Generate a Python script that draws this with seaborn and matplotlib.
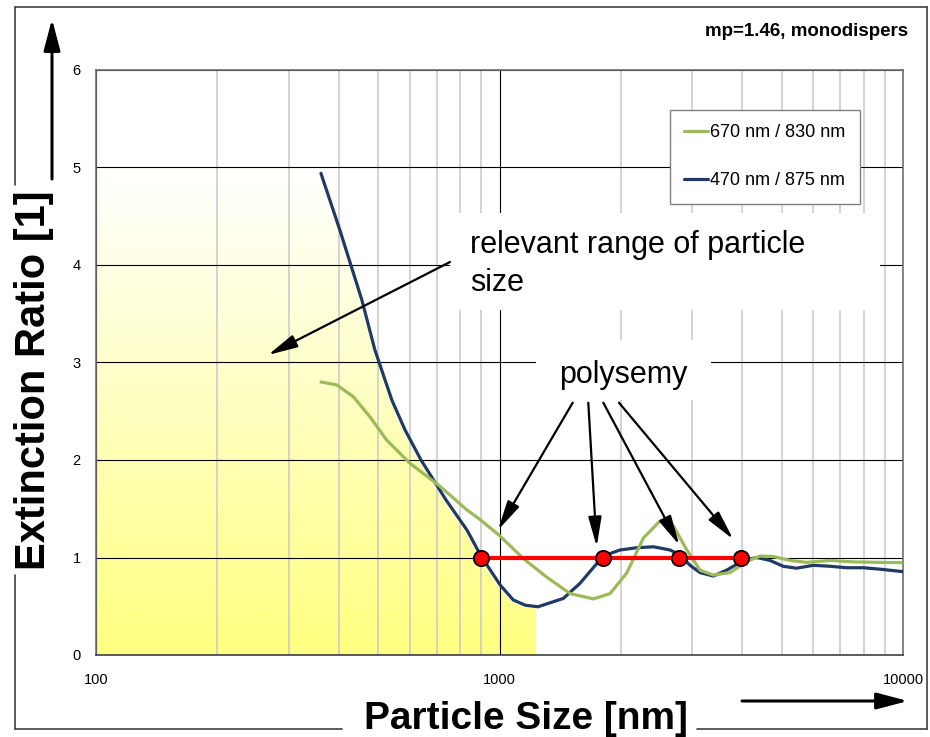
import numpy as np
import pandas as pd
import matplotlib
matplotlib.use('Agg')
import matplotlib.pyplot as plt
import seaborn as sns
from matplotlib.patches import Rectangle, Polygon
from matplotlib.lines import Line2D
from matplotlib.colors import LinearSegmentedColormap
from matplotlib.transforms import ScaledTranslation
from matplotlib.ticker import LogLocator, FixedLocator, FuncFormatter, NullFormatter

# ---------------- data ----------------
series_labels = ['670 nm / 830 nm', '470 nm / 875 nm']

green_x = [361, 395, 434, 478, 525, 600, 712, 829, 895, 1003, 1145, 1308, 1496,
           1708, 1880, 2066, 2273, 2500, 2700, 2912, 3140, 3389, 3726, 4100,
           4422, 4769, 5249, 5773, 6590, 7534, 8772, 10000]
green_y = [2.80, 2.77, 2.65, 2.44, 2.205, 1.966, 1.73, 1.49, 1.39, 1.22, 0.99,
           0.80, 0.63, 0.575, 0.63, 0.84, 1.20, 1.375, 1.32, 1.077, 0.87, 0.82,
           0.845, 0.96, 1.015, 1.01, 0.97, 0.95, 0.97, 0.955, 0.95, 0.947]

blue_x = [361, 402, 456, 491, 541, 583, 639, 737, 831, 900, 1003, 1082, 1160,
          1246, 1439, 1583, 1807, 1989, 2188, 2405, 2647, 2801, 2966, 3140,
          3389, 3655, 4021, 4338, 4680, 5048, 5446, 5994, 6590, 7250, 7975,
          8772, 10000]
blue_y = [4.94, 4.36, 3.64, 3.13, 2.615, 2.31, 2.0, 1.59, 1.28, 1.015, 0.72,
          0.564, 0.51, 0.495, 0.58, 0.735, 1.015, 1.077, 1.10, 1.11, 1.077,
          1.026, 0.92, 0.845, 0.81, 0.87, 0.97, 1.0, 0.97, 0.91, 0.89, 0.92,
          0.91, 0.895, 0.895, 0.88, 0.855]

red_x = [900, 1807, 2790, 3960]
red_y = [1.0, 1.0, 1.0, 1.0]

fill_end = 1246     # end of "relevant range" shading (nm)
fill_cap = 5        # top of shading

x_ticks = [100, 1000, 10000]
y_ticks = [0, 1, 2, 3, 4, 5, 6]

# ---------------- style ----------------
sns.set_theme(style='white')
plt.rcParams['font.family'] = ['Liberation Sans', 'DejaVu Sans']
plt.rcParams['text.color'] = 'black'
plt.rcParams['axes.labelcolor'] = 'black'
plt.rcParams['xtick.color'] = 'black'
plt.rcParams['ytick.color'] = 'black'

W, H = 930, 737
fig = plt.figure(figsize=(W / 100, H / 100), dpi=100)
fig.patch.set_facecolor('white')


def ft(x, y):
    """pixel (from top-left) -> figure fraction"""
    return (x / W, 1 - y / H)


ax = fig.add_axes([96 / W, 1 - 655 / H, 807 / W, 585 / H])
ax.set_facecolor('white')
ax.set_xscale('log')

# ---------------- gradient shading (under the 470/875 curve) ----------------
bx = np.array(blue_x, dtype=float)
by = np.array(blue_y, dtype=float)
mask = bx <= fill_end
end_y = np.interp(np.log10(fill_end), np.log10(bx), by)
poly_x = [x_ticks[0], bx[0]] + list(bx[mask]) + [fill_end, fill_end, x_ticks[0]]
poly_y = [fill_cap, fill_cap] + list(np.minimum(by[mask], fill_cap)) + [end_y, 0, 0]
clip_poly = Polygon(np.column_stack([poly_x, poly_y]), closed=True,
                    transform=ax.transData + ScaledTranslation(-0.02, -0.02, fig.dpi_scale_trans),
                    facecolor='none', edgecolor='none')
cmap = LinearSegmentedColormap.from_list('yel', ['#FFFF80', '#FFFFFF'])
grad = np.linspace(0, 1, 256).reshape(-1, 1)
im = ax.imshow(grad, cmap=cmap, origin='lower', aspect='auto',
               extent=[x_ticks[0], fill_end, 0, fill_cap], zorder=0.2,
               interpolation='bilinear')
im.set_clip_path(clip_poly)

# ---------------- curves ----------------
df_g = pd.DataFrame({'x': green_x, 'y': green_y})
df_b = pd.DataFrame({'x': blue_x, 'y': blue_y})
sns.lineplot(data=df_b, x='x', y='y', ax=ax, color='#1F3B63', linewidth=2.3,
             sort=False, estimator=None, label=series_labels[1], zorder=3)
sns.lineplot(data=df_g, x='x', y='y', ax=ax, color='#9BBB59', linewidth=2.3,
             sort=False, estimator=None, label=series_labels[0], zorder=3)
ax.plot(red_x, red_y, color='#FF0000', linewidth=3, marker='o', markersize=11,
        markerfacecolor='#FF0000', markeredgecolor='black', markeredgewidth=1.3,
        zorder=5)

# ---------------- axes ----------------
ax.set_xlim(x_ticks[0], x_ticks[-1])
ax.set_ylim(y_ticks[0], y_ticks[-1])
ax.set_xlabel('')
ax.set_ylabel('')
ax.set_axisbelow(True)
ax.xaxis.set_major_locator(FixedLocator(x_ticks))
ax.xaxis.set_minor_locator(LogLocator(base=10, subs=np.arange(2, 10)))
ax.xaxis.set_minor_formatter(NullFormatter())
ax.xaxis.set_major_formatter(FuncFormatter(lambda v, p: f'{int(round(v))}'))
ax.set_yticks(y_ticks)
ax.grid(True, which='major', axis='both', color='#000000', linewidth=0.8)
ax.grid(True, which='minor', axis='x', color='#c8c8c8', linewidth=1.1)
ax.tick_params(axis='x', which='minor', length=0)
ax.tick_params(axis='both', which='major', direction='out', length=5, width=1,
               color='#404040', labelsize=10.5, labelcolor='black')
ax.tick_params(axis='x', which='major', pad=8)
ax.tick_params(axis='y', which='major', pad=6)
for side in ['left', 'top', 'right']:
    ax.spines[side].set_color('#707070')
    ax.spines[side].set_linewidth(1.2)
ax.spines['bottom'].set_color('#404040')
ax.spines['bottom'].set_linewidth(1.2)

# ---------------- legend ----------------
handles = [Line2D([], [], color='#9BBB59', linewidth=2.3),
           Line2D([], [], color='#1F3B63', linewidth=2.3)]
leg = ax.legend(handles, series_labels, loc='upper right',
                bbox_to_anchor=ft(860, 110), bbox_transform=fig.transFigure,
                fontsize=13, frameon=True, fancybox=False, framealpha=1,
                edgecolor='#808080', handlelength=1.3, handletextpad=0.15,
                labelspacing=1.7, borderpad=0.8, borderaxespad=0)
leg.get_frame().set_linewidth(1.0)
leg.set_zorder(6)
for t in leg.get_texts():
    t.set_color('black')

# ---------------- annotation boxes ----------------
for (x0, y0, x1, y1) in [(450, 213, 880, 310), (536, 340, 711, 400)]:
    ax.add_patch(Rectangle(ft(x0, y1), (x1 - x0) / W, (y1 - y0) / H,
                           transform=fig.transFigure, facecolor='white',
                           edgecolor='none', zorder=1))

fig.text(*ft(470, 253), 'relevant range of particle', fontsize=22,
         ha='left', va='baseline', color='black', zorder=7)
fig.text(*ft(470, 291.5), 'size', fontsize=22, ha='left', va='baseline',
         color='black', zorder=7)
fig.text(*ft(623, 383), 'polysemy', fontsize=22, ha='center', va='baseline',
         color='black', zorder=7)

arrow_kw = dict(arrowstyle='-|>,head_length=0.9,head_width=0.2', mutation_scale=20,
                lw=1.6, color='black', shrinkA=0, shrinkB=0)
arrows = [((450, 262), (268, 355)),
          ((572.7, 402.7), (498, 530)),
          ((588.3, 402.7), (596.7, 546.7)),
          ((603.3, 402.7), (679.3, 545)),
          ((619, 402.7), (733.3, 539.3))]
for tail, head in arrows:
    ax.annotate('', xy=ft(*head), xytext=ft(*tail), xycoords='figure fraction',
                textcoords='figure fraction', arrowprops=arrow_kw, zorder=6)

# ---------------- outer decorations ----------------
fig.text(*ft(908, 36.5), 'mp=1.46, monodispers', fontsize=13.5, fontweight='bold',
         ha='right', va='baseline', color='black')
fig.text(*ft(34, 380), 'Extinction Ratio [1]', fontsize=30, fontweight='bold',
         rotation=90, ha='center', va='center', color='black')
fig.text(*ft(526, 729), 'Particle Size [nm]', fontsize=28, fontweight='bold',
         ha='center', va='baseline', color='black')

axis_arrow = dict(arrowstyle='-|>,head_length=0.95,head_width=0.25', mutation_scale=20,
                  lw=2.2, color='black', shrinkA=0, shrinkB=0)
ax.annotate('', xy=ft(52, 19), xytext=ft(52, 179), xycoords='figure fraction',
            textcoords='figure fraction', arrowprops=axis_arrow)
ax.annotate('', xy=ft(908, 701), xytext=ft(742, 701), xycoords='figure fraction',
            textcoords='figure fraction', arrowprops=axis_arrow)

frame_color = '#404040'
frame_segments = [
    ((15, 6.7), (927, 6.7)),
    ((927, 6.7), (927, 729)),
    ((15, 6.7), (15, 185)),
    ((15, 575), (15, 729)),
    ((15, 729), (342, 729)),
    ((697, 729), (927, 729)),
]
for (xa, ya), (xb, yb) in frame_segments:
    pa, pb = ft(xa, ya), ft(xb, yb)
    fig.add_artist(Line2D([pa[0], pb[0]], [pa[1], pb[1]], transform=fig.transFigure,
                          color=frame_color, linewidth=1.2))

fig.savefig('out.png', dpi=100, facecolor='white')
